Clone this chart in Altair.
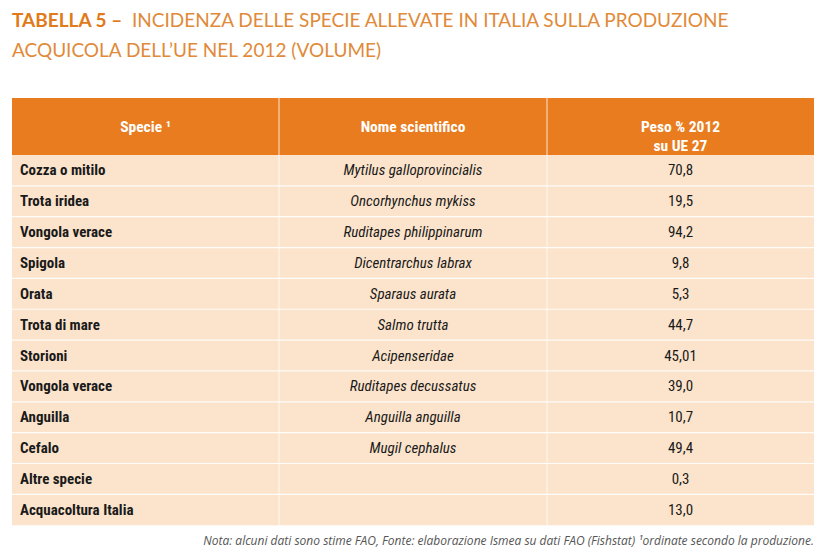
import altair as alt
import pandas as pd

# ---- data ----
specie = ["Cozza o mitilo", "Trota iridea", "Vongola verace", "Spigola", "Orata",
          "Trota di mare", "Storioni", "Vongola verace", "Anguilla", "Cefalo",
          "Altre specie", "Acquacoltura Italia"]
nome_scientifico = ["Mytilus galloprovincialis", "Oncorhynchus mykiss", "Ruditapes philippinarum",
                    "Dicentrarchus labrax", "Sparaus aurata", "Salmo trutta", "Acipenseridae",
                    "Ruditapes decussatus", "Anguilla anguilla", "Mugil cephalus", "", ""]
peso = [70.8, 19.5, 94.2, 9.8, 5.3, 44.7, 45.01, 39.0, 10.7, 49.4, 0.3, 13.0]
headers = ["Specie ¹", "Nome scientifico", "Peso % 2012\nsu UE 27"]
title_bold = "TABELLA 5 –"
title_line1 = "INCIDENZA DELLE SPECIE ALLEVATE IN ITALIA SULLA PRODUZIONE"
title_line2 = "ACQUICOLA DELL’UE NEL 2012 (VOLUME)"
nota = "Nota: alcuni dati sono stime FAO, Fonte: elaborazione Ismea su dati FAO (Fishstat)  ¹ordinate secondo la produzione."

# ---- layout (derived) ----
W, H = 812, 544
LEFT, RIGHT = 4, 806
COLS = [LEFT, 271, 539, RIGHT]
HEAD_TOP, BODY_TOP = 90, 147
ROW_H = 30.85
n = len(specie)
BODY_BOT = BODY_TOP + n * ROW_H

ORANGE = "#E87C1E"
PEACH = "#FCE4CC"
TITLE_C = "#E08A3A"
BODY_FONT = "'Roboto Condensed', 'Liberation Sans Narrow', Roboto, sans-serif"
TITLE_FONT = "Lato, 'Open Sans', sans-serif"

xs = alt.Scale(domain=[0, W], nice=False, zero=False)
ys = alt.Scale(domain=[0, H], nice=False, zero=False, reverse=True)

def X(f="x"):
    return alt.X(f"{f}:Q", scale=xs, axis=None)

def Y(f="y"):
    return alt.Y(f"{f}:Q", scale=ys, axis=None)

rows = pd.DataFrame({
    "specie": specie,
    "nome": nome_scientifico,
    "peso": [str(v).replace(".", ",") for v in peso],
})
rows["i"] = range(n)
rows["y"] = BODY_TOP + (rows["i"] + 0.5) * ROW_H
rows["x1"] = 12
rows["x2"] = (COLS[1] + COLS[2]) / 2
rows["x3"] = (COLS[2] + COLS[3]) / 2

boxes = pd.DataFrame({
    "x": [LEFT, LEFT], "x2": [RIGHT, RIGHT],
    "y": [HEAD_TOP, BODY_TOP], "y2": [BODY_TOP, BODY_BOT],
    "c": [ORANGE, PEACH],
})
bg = alt.Chart(boxes).mark_rect().encode(
    x=X(), x2="x2:Q", y=Y(), y2="y2:Q", color=alt.Color("c:N", scale=None))

seps = pd.DataFrame({"y": [BODY_TOP + k * ROW_H for k in range(1, n)]})
hlines = alt.Chart(seps).mark_rule(color="white", strokeWidth=1.2, opacity=0.9).encode(
    x=alt.value(LEFT), x2=alt.value(RIGHT), y=Y())

vl = pd.DataFrame({"x": [COLS[1], COLS[2]], "y": [HEAD_TOP, HEAD_TOP], "y2": [BODY_BOT, BODY_BOT]})
vlines = alt.Chart(vl).mark_rule(color="white", strokeWidth=1, opacity=0.8).encode(
    x=X(), y=Y(), y2="y2:Q")

hd = pd.DataFrame({
    "t": [h.split("\n") for h in headers],
    "x": [(COLS[k] + COLS[k + 1]) / 2 for k in range(3)],
    "y": [(HEAD_TOP + BODY_TOP) / 2] * 3,
})
head_text = alt.Chart(hd).mark_text(
    font=BODY_FONT, fontSize=15.5, fontWeight="bold", color="white", lineHeight=19
).encode(x=X(), y=Y(), text="t")

t1 = alt.Chart(rows).mark_text(
    font=BODY_FONT, fontSize=15, fontWeight="bold", color="#1a1a1a", align="left"
).encode(x=X("x1"), y=Y(), text="specie:N")
t2 = alt.Chart(rows).mark_text(
    font=BODY_FONT, fontSize=15, fontStyle="italic", color="#1a1a1a"
).encode(x=X("x2"), y=Y(), text="nome:N")
t3 = alt.Chart(rows).mark_text(
    font=BODY_FONT, fontSize=15, color="#1a1a1a"
).encode(x=X("x3"), y=Y(), text="peso:N")

titles = pd.DataFrame({
    "t": [title_bold, title_line1, title_line2],
    "w": ["bold", "normal", "normal"],
    "x": [4, 124, 4],
    "y": [13, 13, 43],
})
tb = alt.Chart(titles[titles.w == "bold"]).mark_text(
    font=TITLE_FONT, fontSize=19, fontWeight="bold", color="#E07A1A", align="left"
).encode(x=X(), y=Y(), text="t:N")
tn = alt.Chart(titles[titles.w == "normal"]).mark_text(
    font=TITLE_FONT, fontSize=19, color=TITLE_C, align="left"
).encode(x=X(), y=Y(), text="t:N")

nd = pd.DataFrame({"t": [nota], "x": [RIGHT], "y": [533]})
note = alt.Chart(nd).mark_text(
    font="'Open Sans', sans-serif", fontSize=12, fontStyle="italic", color="#555555", align="right"
).encode(x=X(), y=Y(), text="t:N")

chart = alt.layer(bg, hlines, vlines, head_text, t1, t2, t3, tb, tn, note).properties(
    width=W, height=H, padding=0,
    autosize=alt.AutoSizeParams(type="fit", contains="padding"),
).configure_view(stroke=None)

chart.save("out.html", embed_options={"renderer": "svg", "actions": False})
